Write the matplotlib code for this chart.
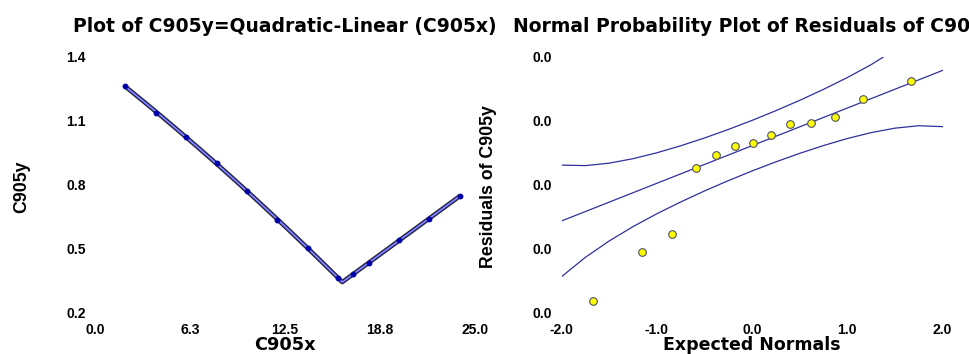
import numpy as np
import matplotlib
matplotlib.use('Agg')
import matplotlib.pyplot as plt

plt.rcParams['font.family'] = ['Liberation Sans', 'DejaVu Sans']
plt.rcParams['font.weight'] = 'bold'

# left panel: data
x_data = [2, 4, 6, 8, 10, 12, 14, 16, 17, 18, 20, 22, 24]
y_data = [1.264, 1.138, 1.025, 0.903, 0.772, 0.636, 0.505, 0.364, 0.383, 0.434, 0.542, 0.641, 0.749]
x_ticks = [0, 6.25, 12.5, 18.75, 25]
x_tick_labels = ['0.0', '6.3', '12.5', '18.8', '25.0']
y_ticks = [0.2, 0.5, 0.8, 1.1, 1.4]
y_tick_labels = ['0.2', '0.5', '0.8', '1.1', '1.4']

# right panel: normal probability plot of residuals
exp_normals = [-1.67, -1.16, -0.84, -0.59, -0.38, -0.18, 0.01, 0.20, 0.40, 0.62, 0.87, 1.17, 1.67]
residuals = [-0.0181, -0.0105, -0.0077, 0.0026, 0.0047, 0.0061, 0.0066, 0.0078, 0.0095, 0.0097, 0.0107, 0.0134, 0.0163]
ref_intercept = 0.00614
ref_slope = 0.00588
band_z = [-2.0, -1.75, -1.5, -1.25, -1.0, -0.75, -0.5, -0.25, 0.0, 0.25, 0.5, 0.75, 1.0, 1.25, 1.38]
upper_r = [0.00311, 0.00303, 0.00341, 0.00411, 0.00503, 0.00612, 0.00734, 0.00867, 0.01009,
           0.01161, 0.01322, 0.01494, 0.01678, 0.01880, 0.02000]
lower_z = [-2.0, -1.75, -1.5, -1.25, -1.0, -0.75, -0.5, -0.25, 0.0, 0.25, 0.5, 0.75, 1.0,
           1.25, 1.5, 1.75, 2.0]
lower_r = [-0.01433, -0.01131, -0.00875, -0.00651, -0.00450, -0.00266, -0.00094, 0.00067, 0.00219,
           0.00361, 0.00494, 0.00616, 0.00726, 0.00818, 0.00888, 0.00926, 0.00912]
r_ticks = [-0.02, -0.01, 0.0, 0.01, 0.02]
r_tick_labels = ['0.0', '0.0', '0.0', '0.0', '0.0']
z_ticks = [-2, -1, 0, 1, 2]
z_tick_labels = ['-2.0', '-1.0', '0.0', '1.0', '2.0']


# quadratic-linear segmented fit
def seg_design(x, k):
    x = np.asarray(x, dtype=float)
    m = np.minimum(x, k)
    return np.column_stack([np.ones_like(x), m, m ** 2, np.maximum(x - k, 0)])


best = None
for k in np.linspace(14, 18.5, 451):
    A = seg_design(x_data, k)
    coef = np.linalg.lstsq(A, y_data, rcond=None)[0]
    sse = np.sum((A @ coef - y_data) ** 2)
    if best is None or sse < best[0]:
        best = (sse, k, coef)
_, knot, coef = best
x_fit = np.sort(np.append(np.linspace(min(x_data), max(x_data), 200), knot))
y_fit = seg_design(x_fit, knot) @ coef

W, H = 969, 354
fig = plt.figure(figsize=(W / 100, H / 100), dpi=100)


def axes_px(x0, x1, ytop, ybot):
    return fig.add_axes([x0 / W, 1 - ybot / H, (x1 - x0) / W, (ybot - ytop) / H])


ax1 = axes_px(95, 475, 57, 313)
ax1.plot(x_fit, y_fit, color='#202020', lw=3.2, solid_capstyle='round', zorder=2)
ax1.plot(x_fit, y_fit, color='#4848e8', lw=1.7, solid_capstyle='round', zorder=3)
ax1.plot(x_fit, y_fit, color='#b8b8ff', lw=0.5, zorder=4)
ax1.plot(x_data, y_data, 'o', color='#0000a8', ms=3.2, zorder=5)
ax1.set_xlim(0, 25)
ax1.set_ylim(0.2, 1.4)
ax1.set_xticks(x_ticks, x_tick_labels)
ax1.set_yticks(y_ticks, y_tick_labels)

ax2 = axes_px(561.5, 942.5, 57, 313)
zl = np.array([-2.0, 2.0])
ax2.plot(zl, ref_intercept + ref_slope * zl, color='#30309c', lw=0.9)
ax2.plot(band_z, upper_r, color='#30309c', lw=0.9)
ax2.plot(lower_z, lower_r, color='#30309c', lw=0.9)
ax2.plot(exp_normals, residuals, 'o', mfc='#ffff00', mec='#505068', mew=0.8, ms=5.5, zorder=5)
ax2.set_xlim(-2, 2)
ax2.set_ylim(-0.02, 0.02)
ax2.set_xticks(z_ticks, z_tick_labels)
ax2.set_yticks(r_ticks, r_tick_labels)

for ax in (ax1, ax2):
    for s in ax.spines.values():
        s.set_visible(False)
    ax.tick_params(length=0, labelsize=10, pad=7)
    ax.tick_params(axis='y', pad=6.5)
    for t in ax.get_xticklabels() + ax.get_yticklabels():
        t.set_fontweight('bold')

wide = ['DejaVu Sans']
fig.text(285 / W, 1 - 31.7 / H, 'Plot of C905y=Quadratic-Linear (C905x)', ha='center', va='baseline',
         fontsize=13.5, fontweight='bold', family=wide)
fig.text(513 / W, 1 - 31.7 / H, 'Normal Probability Plot of Residuals of C905y', ha='left', va='baseline',
         fontsize=13.5, fontweight='bold', family=wide)
fig.text(285 / W, 1 - 350 / H, 'C905x', ha='center', va='baseline', fontsize=12.8, fontweight='bold',
         family=wide)
fig.text(752 / W, 1 - 350 / H, 'Expected Normals', ha='center', va='baseline', fontsize=12.5,
         fontweight='bold', family=wide)
fig.text(21.5 / W, 1 - 186.5 / H, 'C905y', ha='center', va='center', rotation=90, fontsize=12.8,
         fontweight='bold')
fig.text(488.5 / W, 1 - 186.5 / H, 'Residuals of C905y', ha='center', va='center', rotation=90,
         fontsize=12.8, fontweight='bold')

fig.savefig('out.png', dpi=100)
